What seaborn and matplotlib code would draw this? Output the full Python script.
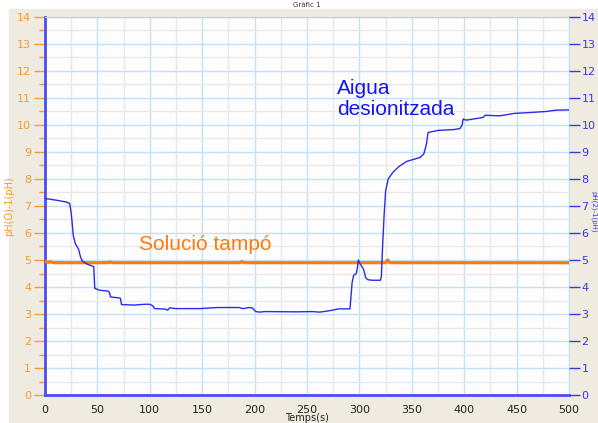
import seaborn as sns
import matplotlib.pyplot as plt
import matplotlib.patches as mpatches
from matplotlib.ticker import MultipleLocator
import pandas as pd

# pH of deionised water (blue)
water_t = [0, 10, 20, 23.5, 25, 27, 29, 32, 34, 35.5, 40, 45, 46.5, 47.5, 52, 60,
           61.5, 62.5, 70, 72, 73, 85, 95, 100, 103, 104.5, 115, 117, 119, 125,
           148, 164, 185, 189, 195, 198, 201, 205, 210, 240, 255, 262, 268, 274,
           280, 291, 292.5, 293, 294.5, 297, 298, 299, 300.5, 302, 304, 306, 308,
           312, 320, 321, 322, 323.5, 325, 327.5, 332, 338, 345, 352, 358, 361.5,
           364, 365.5, 375, 390, 396, 398, 399, 402, 415, 418, 420, 434, 448, 466,
           478, 488, 500]
water_ph = [7.28, 7.22, 7.15, 7.1, 6.75, 5.9, 5.6, 5.4, 5.1, 4.97, 4.85, 4.78, 4.75,
            3.95, 3.88, 3.85, 3.8, 3.63, 3.6, 3.58, 3.35, 3.33, 3.36, 3.36, 3.3, 3.2,
            3.18, 3.14, 3.23, 3.2, 3.2, 3.24, 3.24, 3.2, 3.24, 3.22, 3.09, 3.07, 3.09,
            3.08, 3.09, 3.07, 3.1, 3.14, 3.19, 3.19, 3.9, 4.15, 4.43, 4.5, 4.7, 5.0,
            4.87, 4.78, 4.65, 4.35, 4.27, 4.25, 4.25, 4.4, 5.4, 6.6, 7.55, 8.0, 8.25,
            8.47, 8.65, 8.73, 8.8, 8.93, 9.3, 9.72, 9.8, 9.83, 9.87, 10.0, 10.22,
            10.18, 10.26, 10.28, 10.36, 10.34, 10.43, 10.47, 10.5, 10.55, 10.56]

# pH of buffer solution (orange)
buffer_t = [0, 3, 5, 8, 40, 60, 62, 64, 120, 186, 188, 190, 300, 325, 327, 329, 500]
buffer_ph = [4.95, 4.91, 4.94, 4.9, 4.9, 4.9, 4.93, 4.9, 4.9, 4.9, 4.94, 4.9, 4.9,
             4.9, 5.0, 4.9, 4.9]

water = pd.DataFrame({"t": water_t, "ph": water_ph})
buffer = pd.DataFrame({"t": buffer_t, "ph": buffer_ph})

ORANGE = "#ff7b0a"
BLUE = "#2b2bea"

sns.set_style("white")
plt.rcParams["font.family"] = ["DejaVu Sans"]

fig = plt.figure(figsize=(5.98, 4.23), dpi=100)
fig.patch.set_facecolor("white")
fig.patches.append(mpatches.Rectangle((9 / 598, 0), 1, 1 - 9 / 423,
                                      transform=fig.transFigure,
                                      color="#efebe0", zorder=-10))
ax = fig.add_axes([45 / 598, 1 - 395 / 423, 524 / 598, 378 / 423])
ax.set_facecolor("#fdfdfd")

sns.lineplot(data=buffer, x="t", y="ph", ax=ax, color=ORANGE, lw=2.3,
             estimator=None, sort=False, zorder=3)
sns.lineplot(data=water, x="t", y="ph", ax=ax, color=BLUE, lw=1.0,
             estimator=None, sort=False, zorder=4)

ax.set_xlim(0, 500)
ax.set_ylim(0, 14)
ax.xaxis.set_major_locator(MultipleLocator(50))
ax.xaxis.set_minor_locator(MultipleLocator(25))
ax.yaxis.set_major_locator(MultipleLocator(1))
ax.yaxis.set_minor_locator(MultipleLocator(0.5))
ax.grid(which="major", color="#c0e3fb", lw=1)
ax.grid(which="minor", color="#e9e9e9", lw=1)
ax.set_axisbelow(True)

for side in ["left", "bottom"]:
    ax.spines[side].set_color("#4d4df0")
    ax.spines[side].set_linewidth(2)
ax.spines["top"].set_color("#c8ccc8")
ax.spines["right"].set_color("#c0e3fb")

ax.tick_params(axis="y", which="major", direction="out", length=8, width=1,
               color="#f59a30", labelcolor="#f59a30", labelsize=8, pad=2)
ax.tick_params(axis="y", which="minor", direction="out", length=4, width=1,
               color="#f59a30")
ax.tick_params(axis="x", which="major", direction="out", length=5, width=1,
               color="#333333", labelcolor="#222222", labelsize=8, pad=2)
ax.tick_params(axis="x", which="minor", direction="out", length=4, width=1,
               color="#333333")
ax.set_xlabel("Temps(s)", fontsize=7, color="#222222", labelpad=-1)
ax.set_ylabel("pH(O)-1(pH)", fontsize=7, color="#f59a30", labelpad=2)

ax2 = ax.twinx()
ax2.set_ylim(0, 14)
ax2.yaxis.set_major_locator(MultipleLocator(1))
ax2.tick_params(axis="y", direction="out", length=8, width=1, color="#3a3ae0",
                labelcolor="#3a3ae0", labelsize=8, pad=1)
for s in ax2.spines.values():
    s.set_visible(False)
ax2.grid(False)

ax.text(90, 5.58, "Solució tampó", color=ORANGE, fontsize=15,
        family="Liberation Sans", va="center", ha="left", zorder=5)
ax.text(278.5, 10.97, "Aigua\ndesionitzada", color="#1515f0", fontsize=15,
        family="Liberation Sans", va="center", ha="left", linespacing=1.1, zorder=5)

fig.text(593.5 / 598, 1 - 212 / 423, "pH(2)-1(pH)", rotation=270, fontsize=5,
         color="#3a3ae0", va="center", ha="center")
fig.text(307 / 598, 1 - 5 / 423, "Gràfic 1", fontsize=5, color="#333333",
         va="center", ha="center")

fig.savefig("out.png", dpi=100)
